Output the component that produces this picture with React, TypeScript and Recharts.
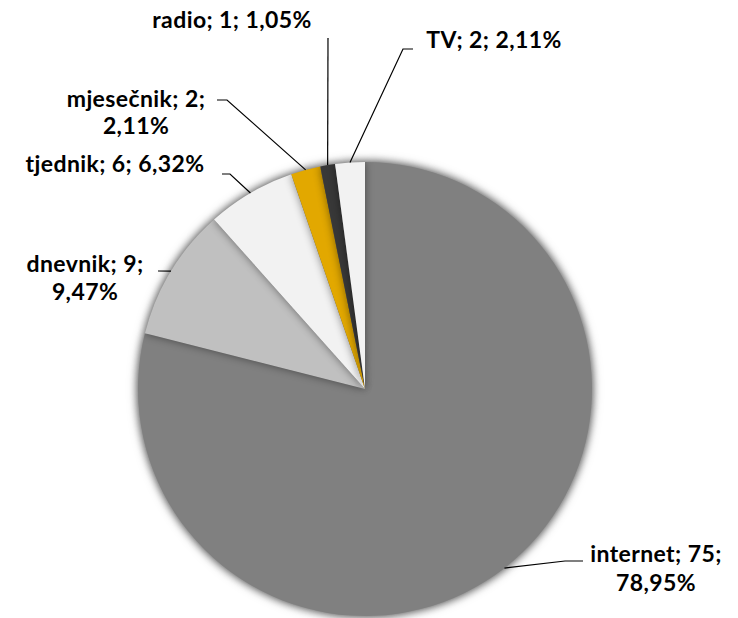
import React from 'react';
import { PieChart, Pie, Cell } from 'recharts';

const categories = ['internet', 'dnevnik', 'tjednik', 'mjesečnik', 'radio', 'TV'];
const counts = [75, 9, 6, 2, 1, 2];
const colors = ['#808080', '#c0c0c0', '#f2f2f2', '#e2a800', '#383838', '#f2f2f2'];

const total = counts.reduce((a, b) => a + b, 0);
const pct = (v: number) => ((v / total) * 100).toFixed(2).replace('.', ',') + '%';

const data = categories.map((name, i) => ({ name, value: counts[i] }));

// hand placed labels like in the original sheet: text anchor + leader bends
type LabelLayout = { x: number; lines: number[]; split: boolean; path: [number, number][] };
const labelLayout: LabelLayout[] = [
	{ x: 656, lines: [562, 591], split: true, path: [[565, 561], [583, 561]] },
	{ x: 85, lines: [272, 300], split: true, path: [[158, 271]] },
	{ x: 115, lines: [172], split: false, path: [[230, 174], [222, 174]] },
	{ x: 136, lines: [107, 134], split: true, path: [[227, 100], [217, 100]] },
	{ x: 232, lines: [28], split: false, path: [[328, 38]] },
	{ x: 494, lines: [48], split: false, path: [[403, 49], [413, 49]] },
];

const RADIAN = Math.PI / 180;

const renderLabel = (props: any) => {
	const { cx, cy, midAngle, outerRadius, index } = props;
	const layout = labelLayout[index];
	const sx = cx + outerRadius * Math.cos(-midAngle * RADIAN);
	const sy = cy + outerRadius * Math.sin(-midAngle * RADIAN);
	const pts = [[sx, sy], ...layout.path];
	const name = categories[index];
	const v = counts[index];
	const texts = layout.split ? [`${name}; ${v};`, pct(v)] : [`${name}; ${v}; ${pct(v)}`];
	return (
		<g key={`lbl-${index}`}>
			<polyline points={pts.map((p) => p.join(',')).join(' ')} fill="none" stroke="#000" strokeWidth={1.2} />
			{texts.map((t, i) => (
				<text
					key={i}
					x={layout.x}
					y={layout.lines[i]}
					textAnchor="middle"
					fontFamily="Lato, 'Open Sans', sans-serif"
					fontWeight={700}
					fontSize={23}
					letterSpacing={0.4}
					fill="#000"
				>
					{t}
				</text>
			))}
		</g>
	);
};

export default function App() {
	return (
		<div style={{ position: 'absolute', left: 0, top: 0, width: 738, height: 618, background: '#fff' }}>
			<style>{`.pie-shadow { filter: drop-shadow(0 0 4px rgba(0,0,0,0.45)); }`}</style>
			<PieChart width={738} height={618} margin={{ top: 0, right: 0, bottom: 0, left: 0 }}>
				<Pie
					className="pie-shadow"
					data={data}
					dataKey="value"
					nameKey="name"
					cx={365}
					cy={389}
					outerRadius={227}
					startAngle={90}
					endAngle={-270}
					stroke="none"
					isAnimationActive={false}
				>
					{data.map((d, i) => (
						<Cell key={d.name} fill={colors[i]} />
					))}
				</Pie>
				<Pie
					data={data}
					dataKey="value"
					nameKey="name"
					cx={365}
					cy={389}
					outerRadius={227}
					startAngle={90}
					endAngle={-270}
					fill="none"
					stroke="none"
					label={renderLabel}
					labelLine={false}
					isAnimationActive={false}
				/>
			</PieChart>
		</div>
	);
}
